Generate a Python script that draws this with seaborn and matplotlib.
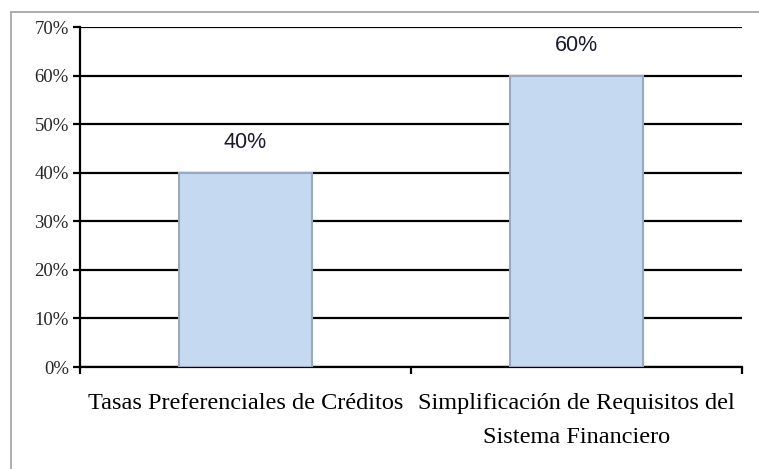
import matplotlib
matplotlib.use("Agg")
import matplotlib.pyplot as plt
import seaborn as sns
import pandas as pd
from matplotlib.lines import Line2D
from matplotlib.ticker import FuncFormatter, FixedLocator

categories = ["Tasas Preferenciales de Créditos",
              "Simplificación de Requisitos del\nSistema Financiero"]
values = [40, 60]
value_labels = ["40%", "60%"]
y_ticks = [0, 10, 20, 30, 40, 50, 60, 70]

sns.set_style("white")
plt.rcParams['font.family'] = ['Liberation Serif', 'DejaVu Serif']

fig = plt.figure(figsize=(7.59, 4.69), dpi=100)
ax = fig.add_axes([80/759, 1-367/469, (742-80)/759, (367-27)/469])

df = pd.DataFrame({"cat": categories, "val": values})
sns.barplot(data=df, x="cat", y="val", color="#C5D9F1", saturation=1,
            width=0.4, edgecolor="#98AAC2", linewidth=1.5, ax=ax, zorder=3)

ax.set_xlim(-0.5, 1.5)
ax.set_ylim(0, 70)
ax.set_yticks(y_ticks)
ax.yaxis.set_major_formatter(FuncFormatter(lambda v, p: f"{int(v)}%"))
ax.yaxis.grid(True, color="black", linewidth=1.6, zorder=0)
ax.set_axisbelow(True)

for s in ["top", "right"]:
    ax.spines[s].set_visible(False)
for s in ["left", "bottom"]:
    ax.spines[s].set_color("black")
    ax.spines[s].set_linewidth(1.6)

ax.tick_params(axis="y", length=5, width=1.6, color="black", direction="out",
               labelsize=13.5, pad=3, left=True)
ax.tick_params(axis="x", which="major", length=0, labelsize=17.5, pad=19)
ax.xaxis.set_minor_locator(FixedLocator([-0.5, 0.5, 1.5]))
ax.tick_params(axis="x", which="minor", length=5, width=1.6, color="black",
               direction="out", bottom=True)
for lbl in ax.get_xticklabels():
    lbl.set_linespacing(1.8)
    lbl.set_color("black")
ax.set_xlabel("")
ax.set_ylabel("")

for i, (v, t) in enumerate(zip(values, value_labels)):
    ax.annotate(t, xy=(i, v), xytext=(0, 14), textcoords="offset points",
                ha="center", va="bottom", fontsize=15.5, color="#1a1a2e",
                family=["Liberation Sans", "DejaVu Sans"])

# outer frame lines (gray)
fig.add_artist(Line2D([11/759, 1.0], [1-12/469, 1-12/469],
                      transform=fig.transFigure, color="#A0A0A0", lw=1.2))
fig.add_artist(Line2D([11/759, 11/759], [0, 1-12/469],
                      transform=fig.transFigure, color="#A0A0A0", lw=1.2))

fig.savefig("out.png", dpi=100)
